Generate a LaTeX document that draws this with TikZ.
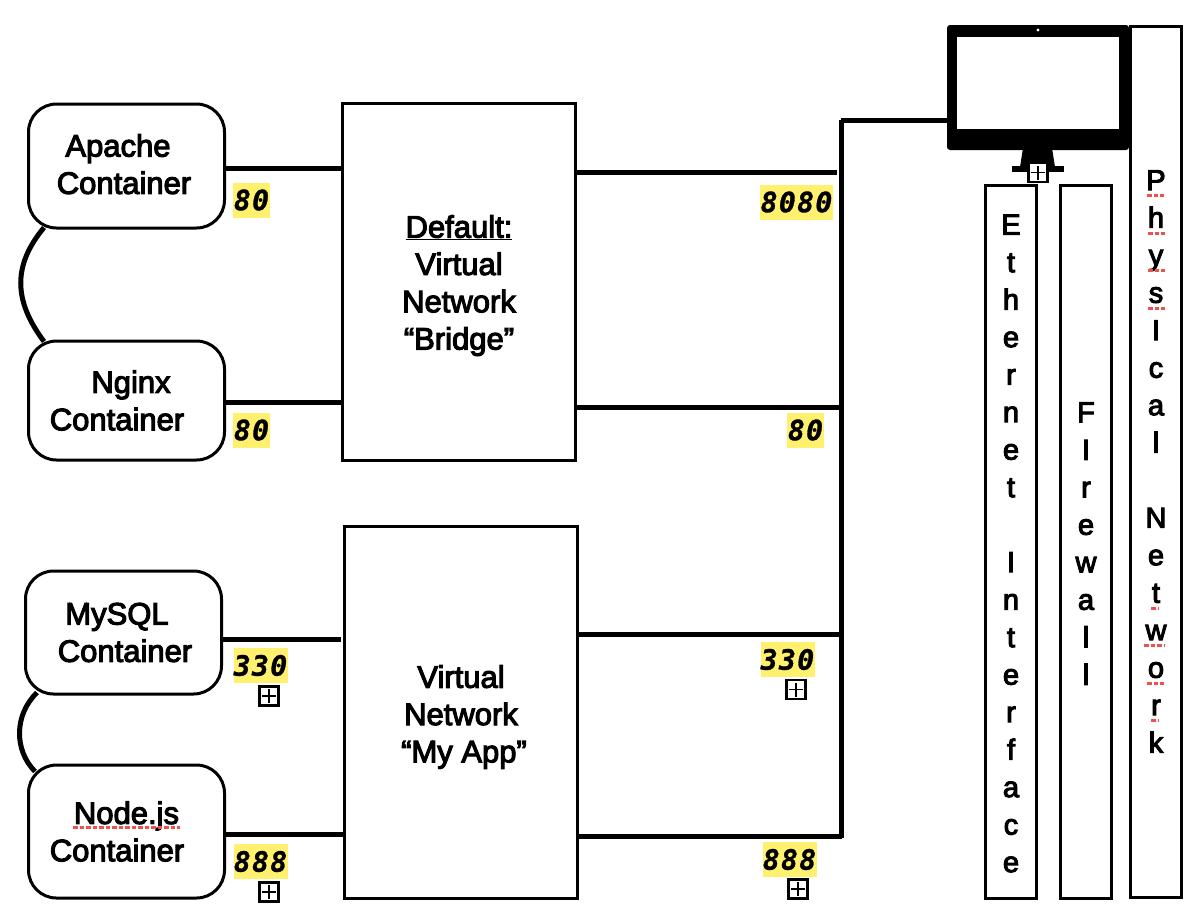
\documentclass[tikz,border=0pt]{standalone}
\usepackage{fontspec}
\usetikzlibrary{calc}
\setmainfont[RawFeature={embolden=3.5}]{Liberation Sans}
\newfontfamily\portfont[LetterSpace=5,RawFeature={embolden=1}]{DejaVu Sans Mono}
\definecolor{portyellow}{HTML}{FFF06E}
\definecolor{spellred}{HTML}{F0524B}
\tikzset{
  every node/.style={inner sep=0pt,font=\fontsize{31}{37.3}\selectfont},
  ctr/.style={draw=black,line width=3pt,fill=white,rounded corners=28pt,minimum width=196pt,align=center},
  netbox/.style={draw=black,line width=3pt,fill=white,minimum width=233pt,align=center},
  col/.style={draw=black,line width=3pt,fill=white,minimum width=51pt,align=center,font=\fontsize{29}{37.5}\selectfont},
  conn/.style={line width=5pt,black},
  arc/.style={line width=5pt,black},
  port/.style={fill=portyellow,minimum height=35pt,font=\fontsize{28}{30}\selectfont\portfont\bfseries\itshape},
  plusbox/.style={draw=black,line width=2.2pt,fill=white,minimum size=19pt,
    path picture={\draw[line width=1.3pt]
      ([xshift=-7pt]path picture bounding box.center)--([xshift=7pt]path picture bounding box.center)
      ([yshift=-7pt]path picture bounding box.center)--([yshift=7pt]path picture bounding box.center);}},
  spell/.style={spellred,line width=3pt,dash pattern=on 4.5pt off 2pt},
}
\begin{document}
\begin{tikzpicture}[x=1pt,y=-1pt]
\useasboundingbox (0,0) rectangle (1194,922);
% containers
\node[ctr,minimum height=124pt] (apache) at (126.5,166) {Apache\hspace*{17pt}\\Container\hspace*{5pt}\rule[-4pt]{0pt}{0pt}};
\node[ctr,minimum height=119pt] (nginx) at (126.5,400.5) {\hspace*{9pt}Nginx\\Container\hspace*{19pt}};
\node[ctr,minimum height=123pt] (mysql) at (123.5,632.5) {MySQL\hspace*{13pt}\\\hspace*{3pt}Container};
\node[ctr,minimum height=133pt] (nodejs) at (126.5,831.5) {Node.js\\Container\hspace*{19pt}};
% networks
\node[netbox,minimum height=357pt] (default) at (459,281.5) {\rule{0pt}{30.6pt}\underline{Default:}\\Virtual\\Network\\“Bridge”};
\node[netbox,minimum height=372pt] (myapp) at (461,712) {\rule{0pt}{32.5pt}Virtual\\Network\\\hspace*{6pt}“My App”};
% columns
\node[col,minimum height=713pt] (eth) at (1011,541.5) {\rule{0pt}{24pt}E\\t\\h\\e\\r\\n\\e\\t\\\mbox{}\\I\\n\\t\\e\\r\\f\\a\\c\\e};
\node[col,minimum height=713pt] (fire) at (1086,541.5) {\rule{0pt}{24pt}F\\I\\r\\e\\w\\a\\l\\l};
\node[col,minimum height=871pt] (phys) at (1156,461.5) {P\\h\\y\\s\\I\\c\\a\\l\\\mbox{}\\N\\e\\t\\w\\o\\r\\k};
% monitor
\fill[black] (1023,148)--(1052,148)--(1055,167)--(1020,167)--cycle;
\fill[black] (1012,166) rectangle (1064,172);
\node[fill=black,rounded corners=3pt,minimum width=182pt,minimum height=125pt] (monitor) at (1038,87.5) {};
\node[fill=white,minimum width=162pt,minimum height=92pt] (screen) at (1038,83) {};
\node[fill=white,circle,minimum size=3.4pt] (cam) at (1038,30) {};
% bus
\coordinate (bus) at (841.5,120);
\coordinate (busend) at (841.5,838);
\coordinate (stub) at (837,120);
\draw[line width=4.8pt] (bus)--(busend);
\draw[conn] ([xshift=-1pt]bus)--(bus -| monitor.west);
% connectors
\coordinate (y1) at (0,168); \coordinate (y2) at (0,402.5);
\coordinate (y3) at (0,172.5); \coordinate (y4) at (0,407);
\coordinate (y5) at (0,639); \coordinate (y6) at (0,634);
\coordinate (y7) at (0,834); \coordinate (y8) at (0,836);
\coordinate (gap) at (341,0);
\draw[conn] (apache.east |- y1)--(default.west |- y1);
\draw[conn] (nginx.east |- y2)--(default.west |- y2);
\draw[conn] (default.east |- y3)--(stub |- y3);
\draw[conn] (default.east |- y4)--(bus |- y4);
\draw[conn] (mysql.east |- y5)--(gap |- y5);
\draw[conn] (myapp.east |- y6)--(bus |- y6);
\draw[conn] (nodejs.east |- y7)--(myapp.west |- y7);
\draw[conn] (myapp.east |- y8)--(bus |- y8);
% arcs
\draw[arc] ($(apache.south west)+(17,-2)$) .. controls (13,265) and (13,300) .. ($(nginx.north west)+(17,2)$);
\draw[arc] ($(mysql.south west)+(13,-3)$) .. controls (14,715) and (14,750) .. ($(nodejs.north west)+(8,8)$);
% ports
\node[port,minimum width=37pt] (p1) at (251.5,200) {80};
\node[port,minimum width=37pt] (p2) at (251.5,430) {80};
\node[port,minimum width=73pt] (p3) at (796.5,202) {8080};
\node[port,minimum width=37pt] (p4) at (805.5,430) {80};
\node[port,minimum width=54pt] (p5) at (260.5,665.5) {330};
\node[port,minimum width=54pt] (p6) at (260.5,861.5) {888};
\node[port,minimum width=54pt] (p7) at (787.5,659.5) {330};
\node[port,minimum width=54pt] (p8) at (789.5,859.5) {888};
% plus boxes
\node[plusbox] (b1) at (269,696) {};
\node[plusbox] (b2) at (269,892) {};
\node[plusbox] (b3) at (796,689.5) {};
\node[plusbox] (b4) at (798,889) {};
\node[plusbox] (b5) at (1038,172.5) {};
% spelling marks
\draw[spell] (73,827)--(180,827);
\draw[spell] (1147,195)--(1164,195);
\draw[spell] (1148,233)--(1165,233);
\draw[spell] (1148,270)--(1165,270);
\draw[spell] (1148,308)--(1165,308);
\draw[spell] (1151,608)--(1158,608);
\draw[spell] (1144,645)--(1165,645);
\draw[spell] (1147,683)--(1164,683);
\draw[spell] (1151,720)--(1158,720);
\end{tikzpicture}
\end{document}
